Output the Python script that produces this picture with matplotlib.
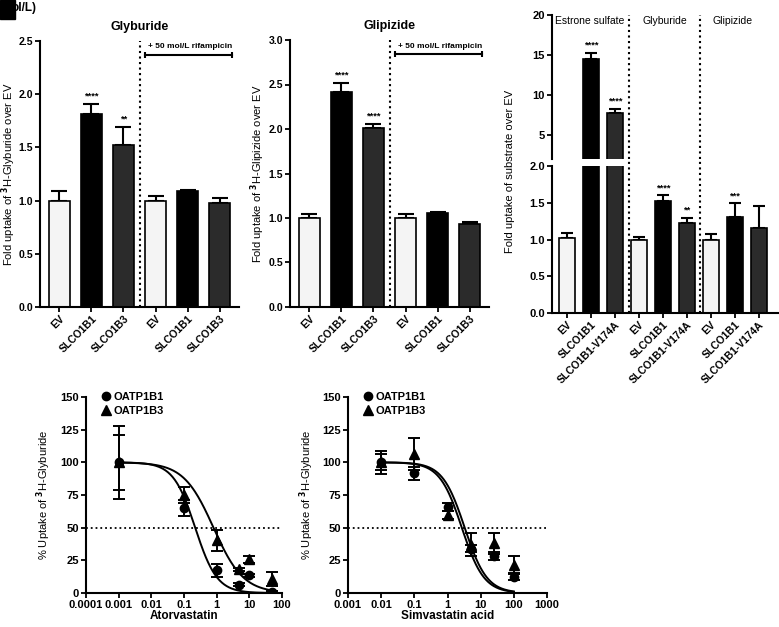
import numpy as np
import matplotlib
matplotlib.use('Agg')
import matplotlib.pyplot as plt
from matplotlib.patches import Rectangle
from matplotlib.lines import Line2D

plt.rcParams['font.family'] = ['Liberation Sans', 'DejaVu Sans']
plt.rcParams['font.weight'] = 'bold'
plt.rcParams['axes.linewidth'] = 1.5
plt.rcParams['xtick.major.width'] = 1.3
plt.rcParams['ytick.major.width'] = 1.3
plt.rcParams['xtick.major.size'] = 3.5
plt.rcParams['ytick.major.size'] = 3.5
plt.rcParams['xtick.major.pad'] = 1.5
plt.rcParams['ytick.major.pad'] = 1.5

# --- bar panels (wild type vs transporters, +/- rifampicin)
bar_labels = ['EV', 'SLCO1B1', 'SLCO1B3', 'EV', 'SLCO1B1', 'SLCO1B3']
gly_mean = [1.00, 1.81, 1.52, 1.00, 1.09, 0.98]
gly_err = [0.09, 0.10, 0.17, 0.04, 0.005, 0.04]
gly_stars = ['', '****', '**', '', '', '']
glip_mean = [1.00, 2.42, 2.01, 1.00, 1.06, 0.93]
glip_err = [0.04, 0.10, 0.05, 0.04, 0.01, 0.02]
glip_stars = ['', '****', '****', '', '', '']

# --- V174A variant panel
var_labels = ['EV', 'SLCO1B1', 'SLCO1B1-V174A'] * 3
var_mean = [1.02, 14.5, 7.7, 1.00, 1.52, 1.23, 1.00, 1.31, 1.15]
var_err = [0.07, 0.8, 0.6, 0.03, 0.08, 0.06, 0.07, 0.18, 0.30]
var_stars = ['', '****', '****', '', '****', '**', '', '***', '']
var_groups = ['Estrone sulfate', 'Glyburide', 'Glipizide']

# --- inhibition curves
ator_x = [0.001, 0.1, 1, 5, 10, 50]
ator_1b1 = [100, 65, 17.5, 6.5, 13.5, 0.8]
ator_1b1_err = [21, 6, 5, 1, 1, 1]
ator_1b3 = [100, 75, 40.5, 18, 25.8, 10.5]
ator_1b3_err = [28, 6, 8, 1, 2.5, 5.3]
ator_ic50 = [0.22, 0.8]
ator_hill = [1.3, 0.95]

simv_x = [0.01, 0.1, 1, 5, 25, 100]
simv_1b1 = [100, 91.5, 66, 34, 28, 12.5]
simv_1b1_err = [9, 5, 3, 3, 3, 2.5]
simv_1b3 = [100, 106.5, 60, 37, 38, 21.5]
simv_1b3_err = [6, 12, 3, 9, 8, 7]
simv_ic50 = [2.7, 3.3]
simv_hill = [1.3, 1.3]

colors = ['#f4f4f4', '#000000', '#2b2b2b'] * 3

W, H = 779, 627
fig = plt.figure(figsize=(W / 100, H / 100), dpi=100)


def px_axes(l, t, r, b):
    return fig.add_axes([l / W, 1 - b / H, (r - l) / W, (b - t) / H])


def clean(ax):
    ax.spines['top'].set_visible(False)
    ax.spines['right'].set_visible(False)


def bar_panel(ax, means, errs, stars, title, ylabel, ymax, brk_y, txt_y, lab_x):
    x = np.arange(len(means))
    ax.bar(x, means, width=0.65, color=colors[:len(means)], edgecolor='black', lw=1.2, zorder=2)
    ax.errorbar(x, means, yerr=[np.zeros(len(errs)), errs], fmt='none', ecolor='black',
                elinewidth=1.5, capsize=6, capthick=1.5, zorder=1)
    for xi, m, e, s in zip(x, means, errs, stars):
        if s:
            ax.annotate(s, (xi, m + e), xytext=(0, 5.5), textcoords='offset points',
                        ha='center', va='center', fontsize=6.8)
    ax.axvline(2.5, color='black', ls=':', lw=1.5)
    ax.set_xlim(-0.6, 5.6)
    ax.set_ylim(0, ymax)
    yt = np.arange(0, ymax + 0.01, 0.5)
    ax.set_yticks(yt)
    ax.set_yticklabels(['%.1f' % v for v in yt], fontsize=7.6)
    ax.set_xticks(x)
    ax.set_xticklabels(bar_labels, rotation=45, ha='right', rotation_mode='anchor', fontsize=7.5)
    ax.set_title(title, fontsize=9, fontweight='bold', pad=8)
    ax.set_ylabel(ylabel, fontsize=8.0, fontweight='normal')
    ax.yaxis.set_label_coords(lab_x, 0.5)
    ax.plot([2.68, 5.37], [brk_y, brk_y], color='black', lw=1.5, marker='|', ms=5, mew=1.5, clip_on=False)
    ax.text(2.75, txt_y, '+ 50 mol/L rifampicin', fontsize=6, va='center', ha='left', clip_on=False)
    clean(ax)


ax1 = px_axes(40, 41, 239, 307)
bar_panel(ax1, gly_mean, gly_err, gly_stars, 'Glyburide',
          'Fold uptake of $^3$H-Glyburide over EV', 2.5, 2.37, 2.45, -0.11)

ax2 = px_axes(290, 40, 489, 307)
bar_panel(ax2, glip_mean, glip_err, glip_stars, 'Glipizide',
          'Fold uptake of $^3$H-Glipizide over EV', 3.0, 2.84, 2.93, -0.115)

# broken-axis variant panel
axt = px_axes(552, 15, 778, 159)
axb = px_axes(552, 166, 778, 313)
xv = np.arange(len(var_mean))
for ax in (axt, axb):
    ax.bar(xv, var_mean, width=0.67, color=colors, edgecolor='black', lw=1.2, zorder=2)
    ax.errorbar(xv, var_mean, yerr=[np.zeros(len(var_err)), var_err], fmt='none', ecolor='black',
                elinewidth=1.5, capsize=4.5, capthick=1.5, zorder=1)
    ax.set_xlim(-0.62, 8.8)
    clean(ax)
axt.set_ylim(2, 20)
axt.set_yticks([5, 10, 15, 20])
axt.set_yticklabels(['5', '10', '15', '20'], fontsize=8)
axt.spines['bottom'].set_visible(False)
axt.set_xticks([])
axb.set_ylim(0, 2)
axb.set_yticks(np.arange(0, 2.01, 0.5))
axb.set_yticklabels(['%.1f' % v for v in np.arange(0, 2.01, 0.5)], fontsize=8)
axb.set_xticks(xv)
axb.set_xticklabels(var_labels, rotation=45, ha='right', rotation_mode='anchor', fontsize=7.5)
for xi, m, e, s in zip(xv, var_mean, var_err, var_stars):
    if s:
        ax = axt if m + e > 2 else axb
        ax.annotate(s, (xi, m + e), xytext=(0, 5.5), textcoords='offset points',
                    ha='center', va='center', fontsize=6.8)
for xd in (2.58, 5.55):
    axt.axvline(xd, color='black', ls=':', lw=1.5)
    axb.plot([xd, xd], [0, 2.1], color='black', ls=':', lw=1.5, clip_on=False)
for gx, g in zip([0.96, 4.08, 6.92], var_groups):
    axt.text(gx, 19.3, g, ha='center', va='center', fontsize=7.5, fontweight='normal')
fig.text(510 / W, 1 - 171 / H, 'Fold uptake of substrate over EV', rotation=90,
         ha='center', va='center', fontsize=8, fontweight='normal')


def hill(x, ic50, n):
    return 100 / (1 + (x / ic50) ** n)


def curve_panel(ax, xs, y1, e1, y3, e3, ic50, nh, xlim, xlabel, lab_x):
    xx = np.logspace(np.log10(xs[0]), np.log10(xs[-1]), 200)
    for ic, n in zip(ic50, nh):
        ax.plot(xx, hill(xx, ic, n), color='black', lw=1.4)
    ax.errorbar(xs, y1, yerr=e1, fmt='o', color='black', ms=6, elinewidth=1.4,
                capsize=4.5, capthick=1.4)
    ax.errorbar(xs, y3, yerr=e3, fmt='^', color='black', ms=6.5, elinewidth=1.4,
                capsize=4.5, capthick=1.4)
    ax.axhline(50, color='black', ls=':', lw=1.3)
    ax.set_xscale('log')
    ax.set_xlim(*xlim)
    ax.set_ylim(0, 150)
    ax.set_yticks([0, 25, 50, 75, 100, 125, 150])
    ax.tick_params(axis='y', labelsize=8)
    ticks = 10.0 ** np.arange(np.log10(xlim[0]), np.log10(xlim[1]) + 1)
    ax.set_xticks(ticks)
    ax.set_xticklabels(['%.4f' % t if t < 0.001 else '%g' % t for t in ticks], fontsize=8)
    ax.minorticks_off()
    ax.set_xlabel(xlabel, fontsize=8.5, fontweight='bold', labelpad=0)
    ax.set_ylabel('% Uptake of $^3$H-Glyburide', fontsize=8, fontweight='normal')
    ax.yaxis.set_label_coords(lab_x, 0.5)
    h = [Line2D([], [], marker='o', ls='', color='black', ms=6),
         Line2D([], [], marker='^', ls='', color='black', ms=6.5)]
    ax.legend(h, ['OATP1B1', 'OATP1B3'], loc='upper left', bbox_to_anchor=(0.05, 1.05),
              frameon=False, fontsize=8, handletextpad=0.2, handlelength=1.0,
              labelspacing=0.35, borderaxespad=0)
    clean(ax)


ax4 = px_axes(86, 397, 282, 593)
curve_panel(ax4, ator_x, ator_1b1, ator_1b1_err, ator_1b3, ator_1b3_err,
            ator_ic50, ator_hill, (1e-4, 100), 'Atorvastatin', -0.168)

ax5 = px_axes(348, 397, 547, 593)
curve_panel(ax5, simv_x, simv_1b1, simv_1b1_err, simv_1b3, simv_1b3_err,
            simv_ic50, simv_hill, (1e-3, 1000), 'Simvastatin acid', -0.16)

# cropped panel letter at the top-left corner
fig.add_artist(Rectangle((0, 1 - 19 / H), 15 / W, 19 / H, transform=fig.transFigure,
                         color='black'))
fig.text(12 / W, 1 - 8 / H, 'ol/L)', fontsize=8.5, va='center', ha='left')

fig.savefig('out.png', dpi=100)
